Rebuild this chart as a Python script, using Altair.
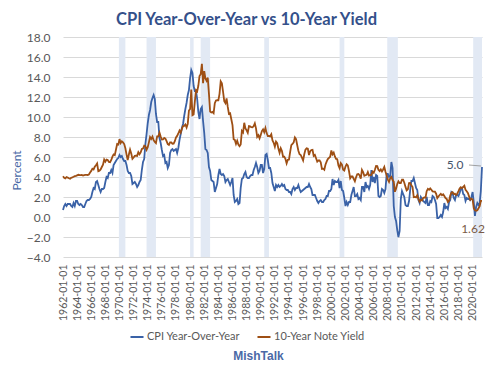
import altair as alt
import pandas as pd

# Bi-monthly samples (Jan, Mar, May, Jul, Sep, Nov), 1962 .. May 2021
cpi_yoy = [
    0.7, 1.1, 1.3, 1.1, 1.3, 1.3,   # 1962
    1.3, 1.1, 1.0, 1.4, 1.1, 1.6,   # 1963
    1.6, 1.3, 1.2, 1.3, 1.2, 1.0,   # 1964
    1.0, 1.3, 1.6, 1.7, 1.7, 1.8,   # 1965
    2.0, 2.5, 2.9, 2.8, 3.5, 3.6,   # 1966
    3.2, 2.8, 2.5, 2.8, 2.8, 2.9,   # 1967
    3.5, 4.0, 3.9, 4.4, 4.4, 4.7,   # 1968
    4.4, 5.2, 5.4, 5.6, 5.8, 5.9,   # 1969
    6.2, 6.0, 6.1, 5.8, 5.6, 5.6,   # 1970
    5.2, 4.6, 4.4, 4.4, 4.1, 3.3,   # 1971
    3.4, 3.5, 3.3, 3.0, 3.2, 3.5,   # 1972
    3.7, 4.7, 5.5, 5.8, 7.3, 8.3,   # 1973
    9.4, 10.2, 10.7, 11.5, 11.9, 12.2,  # 1974
    11.8, 10.3, 9.5, 9.5, 7.9, 7.4,  # 1975
    6.7, 6.1, 6.2, 5.4, 5.5, 4.9,   # 1976
    5.2, 6.4, 6.7, 6.8, 6.6, 6.7,   # 1977
    6.8, 6.4, 6.9, 7.7, 8.3, 8.9,   # 1978
    9.3, 10.1, 10.8, 11.4, 12.2, 12.7,  # 1979
    13.9, 14.7, 14.4, 13.1, 12.6, 12.6,  # 1980
    11.8, 10.5, 9.8, 10.8, 11.0, 9.6,  # 1981
    8.4, 6.8, 6.7, 6.4, 5.0, 4.6,   # 1982
    3.7, 3.6, 3.5, 2.5, 2.9, 3.3,   # 1983
    4.2, 4.8, 4.3, 4.2, 4.3, 4.1,   # 1984
    3.5, 3.7, 3.8, 3.5, 3.2, 3.5,   # 1985
    3.9, 2.2, 1.5, 1.6, 1.8, 1.3,   # 1986
    1.4, 2.9, 3.8, 3.9, 4.3, 4.5,   # 1987
    4.0, 3.9, 3.9, 4.1, 4.2, 4.2,   # 1988
    4.7, 5.0, 5.4, 5.0, 4.4, 4.6,   # 1989
    5.2, 5.2, 4.4, 4.8, 6.2, 6.3,   # 1990
    5.7, 4.9, 4.9, 4.4, 3.4, 3.0,   # 1991
    2.6, 3.2, 3.0, 3.2, 3.0, 3.1,   # 1992
    3.3, 3.1, 3.2, 2.8, 2.7, 2.7,   # 1993
    2.5, 2.5, 2.3, 2.8, 3.0, 2.7,   # 1994
    2.9, 2.9, 3.2, 2.8, 2.5, 2.6,   # 1995
    2.7, 2.8, 2.9, 3.0, 3.0, 3.3,   # 1996
    3.0, 2.8, 2.2, 2.2, 2.2, 1.9,   # 1997
    1.6, 1.4, 1.6, 1.7, 1.5, 1.5,   # 1998
    1.7, 1.8, 2.1, 2.1, 2.6, 2.6,   # 1999
    2.8, 3.8, 3.2, 3.6, 3.5, 3.5,   # 2000
    3.7, 2.9, 3.6, 2.7, 2.6, 1.9,   # 2001
    1.1, 1.5, 1.2, 1.5, 1.5, 2.2,   # 2002
    2.6, 3.0, 2.1, 2.1, 2.3, 1.8,   # 2003
    1.9, 1.7, 3.0, 3.0, 2.5, 3.5,   # 2004
    3.0, 3.1, 2.8, 3.2, 4.7, 3.5,   # 2005
    4.0, 3.4, 4.2, 4.1, 2.1, 2.0,   # 2006
    2.1, 2.8, 2.7, 2.4, 2.8, 4.3,   # 2007
    4.3, 4.0, 4.1, 5.5, 4.9, 1.1,   # 2008
    0.0, -0.4, -1.3, -2.0, -1.4, 1.8,  # 2009
    2.6, 2.3, 2.0, 1.2, 1.1, 1.1,   # 2010
    1.6, 2.7, 3.6, 3.6, 3.9, 3.4,   # 2011
    2.9, 2.7, 1.7, 1.4, 2.0, 1.8,   # 2012
    1.6, 1.5, 1.4, 2.0, 1.2, 1.2,   # 2013
    1.6, 1.5, 2.1, 2.0, 1.7, 1.3,   # 2014
    -0.1, -0.1, 0.0, 0.2, 0.0, 0.5,  # 2015
    1.4, 0.9, 1.0, 0.8, 1.5, 1.7,   # 2016
    2.5, 2.4, 1.9, 1.7, 2.2, 2.2,   # 2017
    2.1, 2.4, 2.8, 2.9, 2.3, 2.2,   # 2018
    1.6, 1.9, 1.8, 1.8, 1.7, 2.0,   # 2019
    2.5, 1.5, 0.1, 1.0, 1.4, 1.2,   # 2020
    1.4, 2.6, 5.0,                  # 2021
]

ten_year = [
    4.08, 3.93, 3.87, 3.99, 3.94, 3.87,   # 1962
    3.83, 3.93, 3.97, 4.02, 4.08, 4.12,   # 1963
    4.17, 4.22, 4.20, 4.19, 4.20, 4.15,   # 1964
    4.19, 4.21, 4.21, 4.20, 4.25, 4.45,   # 1965
    4.61, 4.83, 4.76, 5.02, 5.18, 5.36,   # 1966
    4.58, 4.63, 4.76, 5.00, 5.24, 5.75,   # 1967
    5.53, 5.74, 5.70, 5.50, 5.48, 5.70,   # 1968
    6.04, 6.26, 6.19, 6.72, 7.29, 7.24,   # 1969
    7.79, 7.39, 7.57, 7.46, 7.29, 6.87,   # 1970
    6.24, 5.70, 6.25, 6.73, 6.34, 5.81,   # 1971
    5.95, 6.12, 6.13, 6.11, 6.48, 6.28,   # 1972
    6.46, 6.81, 6.85, 7.13, 7.09, 6.73,   # 1973
    6.99, 7.46, 7.99, 7.81, 8.04, 7.68,   # 1974
    7.50, 7.39, 8.06, 8.06, 8.43, 8.05,   # 1975
    7.74, 7.75, 7.90, 7.83, 7.59, 7.29,   # 1976
    7.21, 7.46, 7.46, 7.33, 7.34, 7.58,   # 1977
    7.96, 8.11, 8.35, 8.64, 8.42, 8.81,   # 1978
    9.10, 9.12, 9.25, 8.95, 9.33, 10.65,  # 1979
    10.80, 12.75, 10.18, 10.25, 11.51, 12.68,  # 1980
    12.57, 13.12, 14.10, 14.28, 15.32, 13.39,  # 1981
    14.59, 13.86, 13.62, 13.95, 12.34, 10.55,  # 1982
    10.46, 10.51, 10.38, 11.38, 11.65, 11.69,  # 1983
    11.67, 12.32, 13.56, 13.36, 12.52, 11.57,  # 1984
    11.38, 11.86, 11.01, 10.31, 10.37, 9.78,   # 1985
    9.19, 7.78, 7.71, 7.30, 7.62, 7.25,   # 1986
    7.08, 7.25, 8.61, 8.45, 9.42, 8.86,   # 1987
    8.67, 8.42, 9.09, 9.06, 8.98, 8.96,   # 1988
    9.09, 9.36, 8.86, 8.02, 8.19, 7.87,   # 1989
    8.21, 8.59, 8.76, 8.47, 8.89, 8.39,   # 1990
    8.09, 8.11, 8.07, 8.27, 7.65, 7.42,   # 1991
    7.03, 7.54, 7.39, 6.84, 6.42, 6.87,   # 1992
    6.60, 6.03, 6.04, 5.81, 5.36, 5.72,   # 1993
    5.75, 6.48, 7.18, 7.30, 7.46, 7.96,   # 1994
    7.78, 7.20, 6.63, 6.28, 6.20, 5.93,   # 1995
    5.65, 6.27, 6.74, 6.87, 6.83, 6.20,   # 1996
    6.58, 6.69, 6.71, 6.12, 6.21, 5.88,   # 1997
    5.54, 5.65, 5.65, 5.46, 4.81, 4.83,   # 1998
    4.72, 5.23, 5.54, 5.79, 5.92, 6.03,   # 1999
    6.66, 6.26, 6.44, 6.05, 5.80, 5.78,   # 2000
    5.16, 4.89, 5.39, 5.24, 4.73, 4.65,   # 2001
    5.04, 5.28, 5.16, 4.60, 3.87, 4.05,   # 2002
    4.05, 3.81, 3.57, 3.98, 4.27, 4.30,   # 2003
    4.15, 3.83, 4.72, 4.50, 4.13, 4.19,   # 2004
    4.22, 4.50, 4.14, 4.18, 4.20, 4.54,   # 2005
    4.42, 4.72, 5.11, 5.09, 4.72, 4.60,   # 2006
    4.76, 4.56, 4.75, 5.00, 4.52, 4.15,   # 2007
    3.74, 3.51, 3.88, 4.01, 3.69, 3.53,   # 2008
    2.52, 2.82, 3.29, 3.56, 3.40, 3.40,   # 2009
    3.73, 3.73, 3.42, 3.01, 2.65, 2.76,   # 2010
    3.39, 3.41, 3.17, 3.00, 1.98, 2.01,   # 2011
    1.97, 2.17, 1.80, 1.53, 1.72, 1.65,   # 2012
    1.91, 1.96, 1.93, 2.58, 2.81, 2.72,   # 2013
    2.86, 2.72, 2.56, 2.54, 2.53, 2.33,   # 2014
    1.88, 2.04, 2.20, 2.32, 2.17, 2.26,   # 2015
    2.09, 1.89, 1.81, 1.50, 1.63, 2.14,   # 2016
    2.43, 2.48, 2.30, 2.32, 2.20, 2.35,   # 2017
    2.58, 2.84, 2.98, 2.89, 3.00, 3.12,   # 2018
    2.71, 2.57, 2.40, 2.06, 1.70, 1.81,   # 2019
    1.76, 0.87, 0.67, 0.62, 0.68, 0.87,   # 2020
    1.08, 1.61, 1.62,                     # 2021
]

years = list(range(1962, 2022))
months = [1, 3, 5, 7, 9, 11]
series_names = ["CPI Year-Over-Year", "10-Year Note Yield"]
series_colors = ["#3A62A7", "#9E4F14"]

rec_start = ["1969-12-01", "1973-11-01", "1980-01-01", "1981-07-01",
             "1990-07-01", "2001-03-01", "2007-12-01", "2020-02-01"]
rec_end = ["1970-11-01", "1975-03-01", "1980-07-01", "1982-11-01",
           "1991-03-01", "2001-11-01", "2009-06-01", "2021-05-01"]

y_ticks = list(range(-4, 19, 2))
x_tick_years = list(range(1962, 2021, 2))

dates = [f"{y}-{m:02d}-01" for y in years for m in months]
dates_cpi = dates[:len(cpi_yoy)]
dates_yld = dates[:len(ten_year)]

df = pd.concat([
    pd.DataFrame({"date": dates_cpi, "value": cpi_yoy, "series": series_names[0], "ord": 0}),
    pd.DataFrame({"date": dates_yld, "value": ten_year, "series": series_names[1], "ord": 1}),
])
rec = pd.DataFrame({"start": rec_start, "end": rec_end})

FONT = "Lato"

xscale = alt.Scale(
    type="utc",
    domain=[alt.DateTime(year=1962, month=1, date=1, utc=True),
            alt.DateTime(year=2021, month=5, date=1, utc=True)],
)
yscale = alt.Scale(domain=[-4, 18], nice=False, zero=False)

xaxis = alt.Axis(
    values=[alt.DateTime(year=y, month=1, date=1, utc=True) for y in x_tick_years],
    format="%Y-%m-%d", labelAngle=-90, grid=False, domain=False, ticks=False,
    labelFont=FONT, labelFontSize=10.5, labelColor="#595959", labelPadding=7,
    labelOverlap=False, labelFlush=False,
    title="MishTalk", titleFont="Liberation Sans", titleFontSize=12, titleFontWeight="bold",
    titleColor="#4A69A6", titleX=195, titleY=98, titleAnchor="start", titleAlign="center",
    titleBaseline="middle",
)
yaxis = alt.Axis(
    values=y_ticks, format=".1f", grid=True, gridColor="#D9D9D9", domain=False, ticks=False,
    labelFont=FONT, labelFontSize=12, labelColor="#595959", labelPadding=13,
    labelOverlap=False, labelFlush=False,
    title="Percent", titleFont=FONT, titleFontSize=12, titleFontWeight="normal",
    titleColor="#4A69A6", titleX=-47, titleY=133, titleAngle=-90,
    titleAlign="center", titleBaseline="middle",
)

bands = alt.Chart(rec).mark_rect(color="#E2E9F4").encode(
    x=alt.X("start:T", scale=xscale, axis=xaxis),
    x2="end:T",
    y=alt.value(0), y2=alt.value(220),
)

lines = alt.Chart(df).mark_line(strokeWidth=1.8).encode(
    x=alt.X("date:T", scale=xscale, axis=xaxis),
    y=alt.Y("value:Q", scale=yscale, axis=yaxis),
    color=alt.Color("series:N",
                    scale=alt.Scale(domain=series_names, range=series_colors),
                    legend=alt.Legend(orient="none", legendX=66, legendY=292,
                                      direction="horizontal", title=None,
                                      symbolType="stroke", symbolSize=170,
                                      symbolStrokeWidth=2, labelFont=FONT,
                                      labelFontSize=11, labelColor="#595959",
                                      columnPadding=13, labelOffset=2)),
    detail="series:N",
    order="ord:Q",
)

last_cpi = pd.DataFrame({"date": [dates_cpi[-1]], "value": [cpi_yoy[-1]],
                         "label": [f"{cpi_yoy[-1]:.1f}"]})
last_yld = pd.DataFrame({"date": [dates_yld[-1]], "value": [ten_year[-1]],
                         "label": [f"{ten_year[-1]:.2f}"]})

cpi_text = alt.Chart(last_cpi).mark_text(
    font=FONT, fontSize=12, color="#44546A", dx=-27, dy=-2
).encode(x=alt.X("date:T", scale=xscale, axis=xaxis),
         y=alt.Y("value:Q", scale=yscale, axis=yaxis), text="label:N")

cpi_leader = alt.Chart(last_cpi).mark_rule(
    color="#8C8C8C", strokeWidth=0.8, xOffset=-13, x2Offset=-1, yOffset=-2, y2Offset=-1
).encode(x=alt.X("date:T", scale=xscale, axis=xaxis), x2="date:T",
         y=alt.Y("value:Q", scale=yscale, axis=yaxis), y2="value:Q")

yld_text = alt.Chart(last_yld).mark_text(
    font=FONT, fontSize=12, color="#7A5A46", dx=-9, dy=28
).encode(x=alt.X("date:T", scale=xscale, axis=xaxis),
         y=alt.Y("value:Q", scale=yscale, axis=yaxis), text="label:N")

chart = alt.layer(bands, lines, cpi_leader, cpi_text, yld_text).properties(
    width=419, height=220,
    autosize=alt.AutoSizeParams(type="none"),
    padding={"left": 55, "top": 29, "right": 10, "bottom": 104},
    background="white",
    title=alt.TitleParams(
        "CPI Year-Over-Year vs 10-Year Yield", font=FONT, fontSize=16.5,
        fontWeight="bold", color="#34508A", anchor="middle", dx=-26, offset=3,
    ),
).configure_view(stroke=None).configure_axis(labelOverlap=False)

chart.save("out.html", embed_options={"renderer": "svg", "actions": False})
